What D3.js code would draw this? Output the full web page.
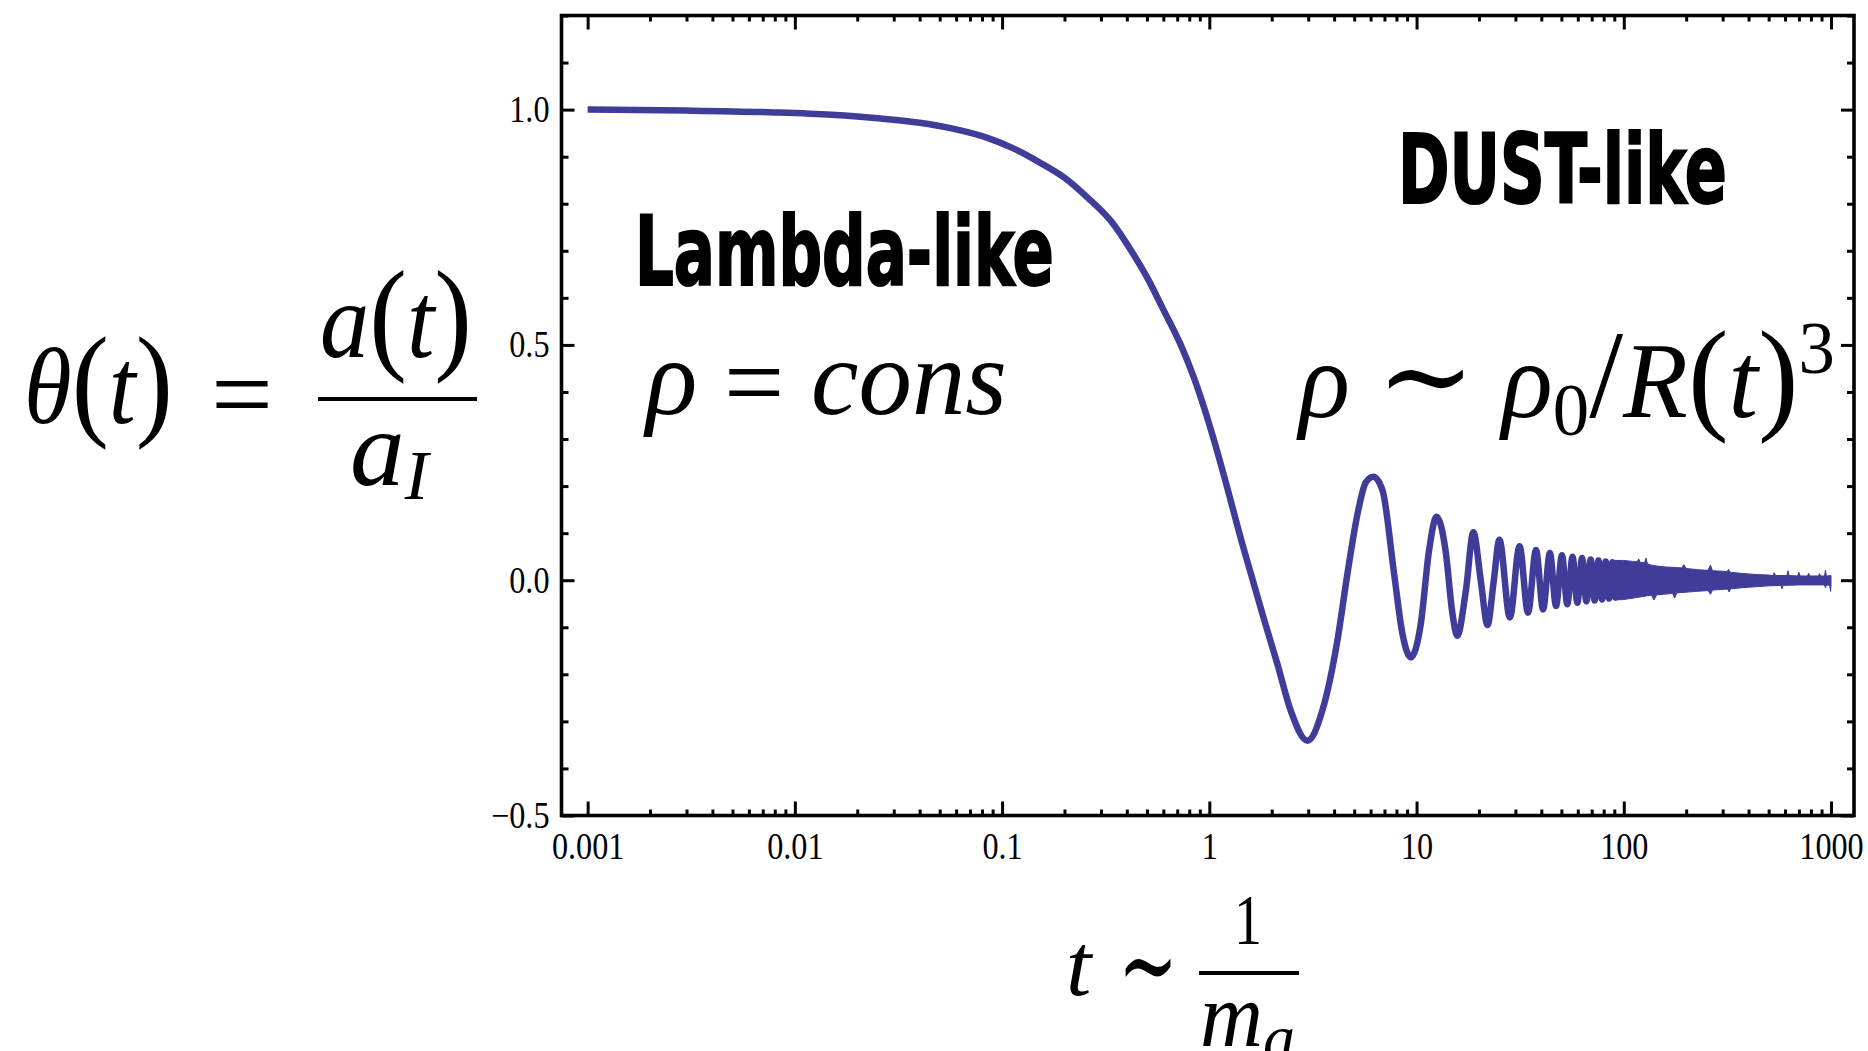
<!DOCTYPE html>
<html>
<head>
<meta charset="utf-8">
<title>theta(t)</title>
<script src="https://cdnjs.cloudflare.com/ajax/libs/d3/7.8.5/d3.min.js"></script>
<style>
  body { margin: 0; background: #fff; overflow: hidden; }
  svg { display: block; background: #fff; }
  .tick text { font-family: "Liberation Serif", "Times New Roman", serif; font-size: 37px; fill: #000; }
  .tick line { stroke: #000; stroke-width: 3; }
  .math { font-family: "Liberation Serif", "DejaVu Serif", serif; font-size: 108px; fill: #000; }
  .big { font-family: "Liberation Sans Narrow", "DejaVu Sans Condensed", "Roboto", sans-serif; font-weight: bold; font-size: 97px; fill: #000; stroke: #000; stroke-width: 2px; }
</style>
</head>
<body>
<svg id="vis" width="1868" height="1051"></svg>
<script>
// theta(t): slow fall from 1, then damped oscillation (extrema)
var tVals = [0.001, 0.003, 0.008, 0.015, 0.026, 0.04, 0.06, 0.085, 0.114, 0.15,
             0.199, 0.26, 0.347, 0.42, 0.503, 0.6, 0.728, 0.84, 0.943, 1.054,
             1.223, 1.42, 1.62, 1.85, 2.13, 2.47, 2.975, 3.51, 4.15, 4.64,
             5.19, 5.69, 6.19, 6.85, 7.79, 8.55, 9.38, 10.48, 11.49, 12.5,
             13.8, 14.9, 15.7, 17.3, 18.8, 20.4, 22.0, 23.6, 25.1, 28.2,
             31.4, 34.5, 37.7, 40.8, 44.0, 47.1, 50.3, 53.4, 56.6, 59.7,
             62.9, 66.0, 69.2, 72.3, 75.5, 78.6, 81.8, 84.9, 88.1, 91.2,
             94.4, 97.5];
var thetaVals = [1.000, 0.998, 0.994, 0.989, 0.981, 0.972, 0.958, 0.940, 0.917, 0.889,
                 0.856, 0.812, 0.755, 0.700, 0.642, 0.575, 0.500, 0.432, 0.367, 0.297,
                 0.195, 0.088, 0.000, -0.088, -0.178, -0.277, -0.341, -0.277, -0.128, 0.014,
                 0.141, 0.208, 0.220, 0.191, 0.014, -0.114, -0.164, -0.093, 0.063, 0.135,
                 0.063, -0.071, -0.118, -0.022, 0.102, 0.000, -0.095, 0.000, 0.086, -0.079,
                 0.072, -0.069, 0.064, -0.062, 0.058, -0.055, 0.053, -0.051, 0.050, -0.048,
                 0.047, -0.045, 0.044, -0.043, 0.042, -0.041, 0.040, -0.039, 0.038, -0.037,
                 0.036, -0.035];

// late times: oscillations too dense to resolve, drawn as a band (upper / lower edge)
var bandTopT = [90, 100, 110, 116, 118, 120, 126, 128, 130, 136, 145, 160, 180, 190, 195, 200,
                230, 255, 262, 268, 300, 315, 320, 326, 380, 440, 500, 525, 532, 540, 612, 620,
                628, 690, 700, 710, 770, 780, 790, 870, 880, 890, 930, 940, 950, 1000];
var bandTopV = [0.042, 0.042, 0.040, 0.039, 0.045, 0.038, 0.037, 0.047, 0.035, 0.032, 0.030, 0.028, 0.027, 0.026, 0.033, 0.025,
                0.022, 0.021, 0.032, 0.020, 0.019, 0.018, 0.023, 0.017, 0.014, 0.012, 0.011, 0.010, 0.016, 0.010, 0.010, 0.020,
                0.010, 0.009, 0.017, 0.009, 0.009, 0.015, 0.009, 0.009, 0.014, 0.009, 0.009, 0.021, 0.009, 0.010];
var bandBotT = [90, 100, 115, 130, 136, 140, 144, 165, 172, 176, 180, 220, 255, 262, 268, 310,
                318, 322, 328, 400, 500, 575, 580, 586, 700, 850, 930, 940, 950, 985, 995, 1000];
var bandBotV = [-0.042, -0.041, -0.037, -0.033, -0.032, -0.042, -0.031, -0.029, -0.028, -0.038, -0.027, -0.024, -0.022, -0.030, -0.021, -0.019,
                -0.019, -0.025, -0.018, -0.015, -0.012, -0.011, -0.018, -0.011, -0.010, -0.010, -0.010, -0.016, -0.010, -0.011, -0.024, -0.013];

var xTickValues = [0.001, 0.01, 0.1, 1, 10, 100, 1000];
var xTickLabels = ["0.001", "0.01", "0.1", "1", "10", "100", "1000"];
var yTickValues = [-0.5, 0, 0.5, 1];
var yTickLabels = ["\u22120.5", "0.0", "0.5", "1.0"];

var L = 561.5, R = 1854, T = 15.5, B = 815.5;
var color = "#403d9a";
var squeeze = 0.87;   // tick labels are a little condensed in the original

var svg = d3.select("#vis");

var x = d3.scaleLog().domain([0.000748, 1291]).range([L, R]);
var y = d3.scaleLinear().domain([-0.5, 1.2]).range([B, T]);

function isDecade(v) { var l = Math.log10(v); return Math.abs(l - Math.round(l)) < 1e-6; }
var xMinor = x.ticks().filter(function (v) { return v >= 0.001 && v <= 1000 && !isDecade(v); });
var yMinor = y.ticks(17).filter(function (v) { return Math.abs(v * 2 - Math.round(v * 2)) > 1e-6; });

function noDomain(g) { g.select(".domain").remove(); }

// bottom / top
svg.append("g").attr("transform", "translate(0," + B + ")")
  .call(d3.axisBottom(x).tickValues(xTickValues).tickFormat(function (d, i) { return xTickLabels[i]; })
    .tickSize(-14).tickPadding(17)).call(noDomain)
  .selectAll(".tick text").attr("transform", "scale(" + squeeze + ",1)");
svg.append("g").attr("transform", "translate(0," + B + ")")
  .call(d3.axisBottom(x).tickValues(xMinor).tickFormat("").tickSize(-6)).call(noDomain);
svg.append("g").attr("transform", "translate(0," + T + ")")
  .call(d3.axisTop(x).tickValues(xTickValues).tickFormat("").tickSize(-14)).call(noDomain);
svg.append("g").attr("transform", "translate(0," + T + ")")
  .call(d3.axisTop(x).tickValues(xMinor).tickFormat("").tickSize(-6)).call(noDomain);

// left / right
svg.append("g").attr("transform", "translate(" + L + ",0)")
  .call(d3.axisLeft(y).tickValues(yTickValues).tickFormat(function (d, i) { return yTickLabels[i]; })
    .tickSize(-13).tickPadding(12)).call(noDomain)
  .selectAll(".tick text").attr("x", -12 / squeeze).attr("transform", "scale(" + squeeze + ",1)");
svg.append("g").attr("transform", "translate(" + L + ",0)")
  .call(d3.axisLeft(y).tickValues(yMinor).tickFormat("").tickSize(-7)).call(noDomain);
svg.append("g").attr("transform", "translate(" + R + ",0)")
  .call(d3.axisRight(y).tickValues(yTickValues).tickFormat("").tickSize(-13)).call(noDomain);
svg.append("g").attr("transform", "translate(" + R + ",0)")
  .call(d3.axisRight(y).tickValues(yMinor).tickFormat("").tickSize(-7)).call(noDomain);

svg.append("rect").attr("x", L).attr("y", T).attr("width", R - L).attr("height", B - T)
  .attr("fill", "none").attr("stroke", "#000").attr("stroke-width", 3.6);

// band of dense oscillations
var bandPts = bandTopT.map(function (t, i) { return [x(t), y(bandTopV[i])]; })
  .concat(bandBotT.map(function (t, i) { return [x(t), y(bandBotV[i])]; }).reverse());
svg.append("path").attr("d", d3.line()(bandPts) + "Z")
  .attr("fill", color).attr("stroke", color).attr("stroke-width", 1).attr("stroke-linejoin", "round");

// the curve
var line = d3.line()
  .x(function (d, i) { return x(tVals[i]); })
  .y(function (d, i) { return y(thetaVals[i]); })
  .curve(d3.curveMonotoneX);
svg.append("path").attr("d", line(tVals))
  .attr("fill", "none").attr("stroke", color).attr("stroke-width", 6.5).attr("stroke-linejoin", "round");

// text helpers: stretch horizontally so the text spans [left, right]
function fit(sel, left, right) {
  var b = sel.node().getBBox();
  var sx = (right - left) / b.width;
  sel.attr("transform", "translate(" + (left - b.x * sx) + ",0) scale(" + sx + ",1)");
}
function mathText(parts, base, left, right, size) {
  var t = svg.append("text").attr("class", "math").attr("x", 0).attr("y", base);
  if (size) t.style("font-size", size + "px");
  parts.forEach(function (p) {
    var s = t.append("tspan").text(p[0]).attr("font-style", p[1] ? "italic" : "normal");
    if (p[2]) s.attr("dy", p[2]);
    if (p[3]) s.attr("font-size", p[3]);
  });
  fit(t, left, right);
  return t;
}
function bigText(s, base, left, right) {
  var t = svg.append("text").attr("class", "big").attr("x", 0).attr("y", base).text(s);
  fit(t, left, right);
}
function bar(x1, x2, yy) {
  svg.append("line").attr("x1", x1).attr("x2", x2).attr("y1", yy).attr("y2", yy)
    .attr("stroke", "#000").attr("stroke-width", 4);
}
var P = 124; // parentheses a bit taller, as in the original typesetting

// theta(t) = a(t)/a_I
mathText([["\u03b8", 1], ["(", 0, 0, P], ["t", 1], [")", 0, 0, P]], 423, 24, 173);
mathText([["=", 0]], 430, 211, 273);
bar(318, 477, 399);
mathText([["a", 1], ["(", 0, 0, P], ["t", 1], [")", 0, 0, P]], 357, 320, 472);
mathText([["a", 1], ["I", 1, 14, 70]], 485, 350, 432);

// t ~ 1/m_a
mathText([["t", 1]], 995, 1066, 1094, 88);
mathText([["\u223c", 0]], 1004, 1118, 1178, 116);
bar(1199, 1299, 973);
mathText([["1", 0]], 944, 1234, 1262, 72);
mathText([["m", 1], ["a", 1, 14, 66]], 1046, 1200, 1295, 90);

// regions
bigText("Lambda-like", 285, 635, 1054);
bigText("DUST-like", 203, 1398, 1727);
mathText([["\u03c1", 1], ["\u00a0", 0], ["=", 0, 4], ["\u00a0", 0, -4], ["cons", 1]], 414, 643, 1007);
mathText([["\u03c1", 1], ["\u00a0", 0], ["\u223c", 0, 0, 120], ["\u00a0", 0], ["\u03c1", 1], ["0", 0, 18, 74], ["/", 0, -18, P],
          ["R", 1], ["(", 0, 0, P], ["t", 1], [")", 0, 0, P], ["3", 0, -44, 74]], 417, 1296, 1835);
</script>
</body>
</html>
